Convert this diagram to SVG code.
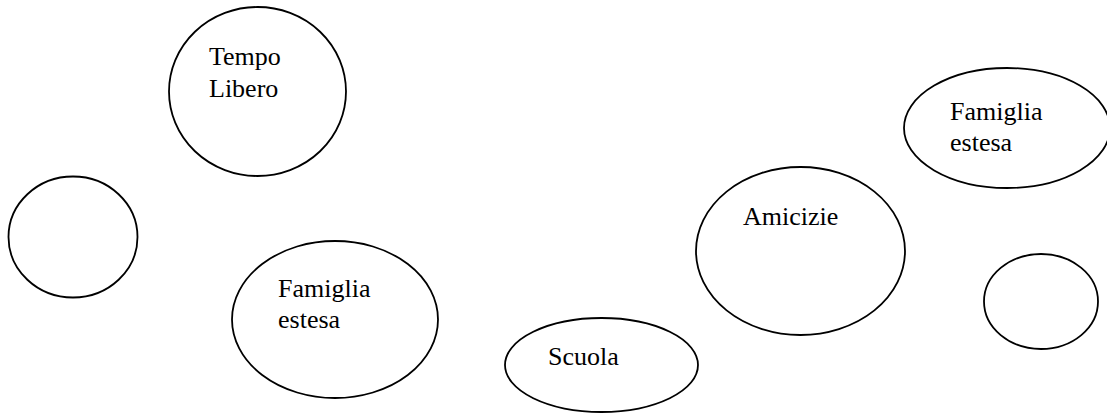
<svg xmlns="http://www.w3.org/2000/svg" width="1107" height="417" viewBox="0 0 1107 417">
  <style>
    .node ellipse { fill: none; stroke: #000; stroke-width: 1.8; }
    .node text { font-family: "Liberation Serif", "Times New Roman", serif; font-size: 26px; fill: #000; }
  </style>
  <rect width="1107" height="417" fill="#fff"/>
  <g id="connectors"></g>
  <g id="tempo-libero" class="node">
    <ellipse cx="257.5" cy="91.5" rx="88.5" ry="84.5"/>
    <text x="209" y="65">Tempo</text>
    <text x="209" y="97">Libero</text>
  </g>
  <g id="empty-left" class="node">
    <ellipse cx="73" cy="237" rx="64.5" ry="60.5"/>
  </g>
  <g id="famiglia-estesa-left" class="node">
    <ellipse cx="335" cy="319.5" rx="103" ry="78.5"/>
    <text x="278" y="297">Famiglia</text>
    <text x="278" y="328">estesa</text>
  </g>
  <g id="scuola" class="node">
    <ellipse cx="601.5" cy="365" rx="96.5" ry="47"/>
    <text x="548" y="365">Scuola</text>
  </g>
  <g id="amicizie" class="node">
    <ellipse cx="800.5" cy="251" rx="104.5" ry="84"/>
    <text x="743" y="225">Amicizie</text>
  </g>
  <g id="famiglia-estesa-right" class="node">
    <ellipse cx="1007" cy="128" rx="103" ry="60"/>
    <text x="950" y="120">Famiglia</text>
    <text x="950" y="151">estesa</text>
  </g>
  <g id="empty-right" class="node">
    <ellipse cx="1041" cy="301.5" rx="57" ry="47.5"/>
  </g>
</svg>
